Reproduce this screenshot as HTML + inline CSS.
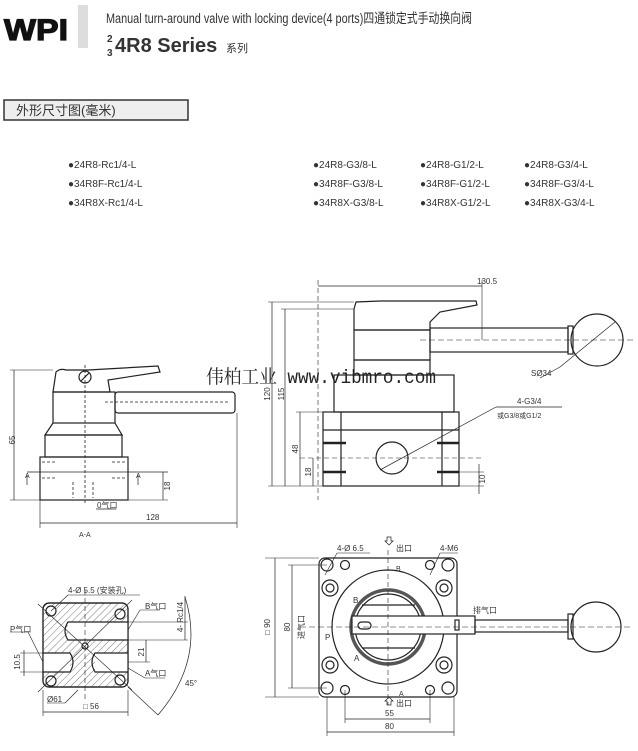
<!DOCTYPE html>
<html><head><meta charset="utf-8"><style>
html,body{margin:0;padding:0;background:#fff;}
svg{display:block;}
text{font-family:"Liberation Sans","Noto Sans CJK SC",sans-serif;fill:#333;}
</style></head><body>
<svg width="638" height="751" viewBox="0 0 638 751" xmlns="http://www.w3.org/2000/svg">
<defs>
<pattern id="h" width="5" height="5" patternUnits="userSpaceOnUse" patternTransform="rotate(45)">
<line x1="0" y1="0" x2="0" y2="5" stroke="#555" stroke-width="0.8"/></pattern>
</defs>
<rect width="638" height="751" fill="#fff"/>
<!-- header -->
<text x="4" y="40" font-size="30" font-weight="bold" style="fill:#111;stroke:#111;stroke-width:1.2" textLength="64" lengthAdjust="spacingAndGlyphs">WPI</text>
<rect x="78" y="5" width="10" height="43" fill="#ddd"/>
<text x="106" y="23" font-size="13.5" textLength="366" lengthAdjust="spacingAndGlyphs">Manual turn-around valve with locking device(4 ports)四通锁定式手动换向阀</text>
<text x="107" y="42" font-size="10" font-weight="bold">2</text>
<text x="107" y="56" font-size="10" font-weight="bold">3</text>
<text x="115" y="52" font-size="20" font-weight="bold" fill="#222">4R8 Series</text>
<text x="226" y="52" font-size="11">系列</text>
<rect x="4" y="100" width="184" height="20" fill="#eee" stroke="#333" stroke-width="1.5"/>
<text x="16" y="115" font-size="13">外形尺寸图(毫米)</text>
<g font-size="10">
<text x="68" y="168">●24R8-Rc1/4-L</text>
<text x="68" y="187">●34R8F-Rc1/4-L</text>
<text x="68" y="206">●34R8X-Rc1/4-L</text>
<text x="313" y="168">●24R8-G3/8-L</text>
<text x="313" y="187">●34R8F-G3/8-L</text>
<text x="313" y="206">●34R8X-G3/8-L</text>
<text x="420" y="168">●24R8-G1/2-L</text>
<text x="420" y="187">●34R8F-G1/2-L</text>
<text x="420" y="206">●34R8X-G1/2-L</text>
<text x="524" y="168">●24R8-G3/4-L</text>
<text x="524" y="187">●34R8F-G3/4-L</text>
<text x="524" y="206">●34R8X-G3/4-L</text>
</g>

<g stroke="#222" stroke-width="1.2" fill="none">
<!-- left side view -->
<path d="M53 392 L56 372 Q60 368 66 370 L88 370 L158 366 L160 372 L108 380 L110 392 Z" fill="#fff"/>
<circle cx="85" cy="377" r="6"/><line x1="81" y1="381" x2="89" y2="373"/>
<rect x="53" y="392" width="62" height="31"/>
<rect x="115" y="392" width="120" height="21" rx="3"/>
<path d="M53 423 L45 435 L122 435 L115 423"/>
<rect x="45" y="435" width="77" height="22"/>
<rect x="40" y="457" width="88" height="43"/>
<g stroke-dasharray="3,2" stroke-width="0.8"><line x1="85" y1="365" x2="85" y2="505"/><line x1="105" y1="402" x2="230" y2="402"/>
<line x1="42" y1="462" x2="55" y2="462"/><line x1="112" y1="462" x2="126" y2="462"/><line x1="42" y1="478" x2="55" y2="478"/><line x1="112" y1="478" x2="126" y2="478"/>
<line x1="73" y1="482" x2="73" y2="498"/><line x1="93" y1="482" x2="93" y2="498"/></g>
<line x1="27" y1="472" x2="168" y2="472" stroke-width="0.7"/>
<line x1="10" y1="370" x2="53" y2="370" stroke-width="0.6"/><line x1="10" y1="500" x2="40" y2="500" stroke-width="0.6"/>
<line x1="14" y1="370" x2="14" y2="500" stroke-width="0.7"/>
<line x1="163" y1="472" x2="163" y2="500" stroke-width="0.7"/><line x1="128" y1="500" x2="168" y2="500" stroke-width="0.6"/>
<line x1="40" y1="500" x2="40" y2="528" stroke-width="0.6"/><line x1="237" y1="413" x2="237" y2="528" stroke-width="0.6"/>
<line x1="40" y1="523" x2="237" y2="523" stroke-width="0.7"/>
<line x1="96" y1="509" x2="116" y2="509" stroke-width="0.7"/>
<line x1="27" y1="475" x2="27" y2="485" stroke-width="0.7"/><line x1="138" y1="475" x2="138" y2="485" stroke-width="0.7"/>

<!-- right front view -->
<line x1="318" y1="286" x2="482" y2="286" stroke-width="0.7"/>
<line x1="482" y1="280" x2="482" y2="340" stroke-width="0.6"/><line x1="318" y1="280" x2="318" y2="500" stroke-dasharray="5,3" stroke-width="0.6"/>
<path d="M354 309 L356 302 L380 301 L476 301 L477 305 L440 312 L430 322 L430 330 L354 330 Z" fill="#fff"/>
<rect x="354" y="330" width="76" height="30"/>
<rect x="430" y="328" width="138" height="24"/>
<rect x="568" y="326" width="5" height="28"/>
<circle cx="597" cy="340" r="26"/>
<line x1="560" y1="367" x2="615" y2="322" stroke-width="0.7"/>
<line x1="540" y1="378" x2="560" y2="367" stroke-width="0.7"/>
<line x1="420" y1="340" x2="635" y2="340" stroke-dasharray="6,3" stroke-width="0.6"/>
<rect x="354" y="360" width="76" height="15"/>
<rect x="334" y="375" width="120" height="37"/>
<rect x="323" y="412" width="136" height="74"/>
<line x1="341" y1="412" x2="341" y2="486"/><line x1="442" y1="412" x2="442" y2="486"/>
<line x1="323" y1="430" x2="459" y2="430"/>
<g stroke-width="2.5"><line x1="323" y1="443" x2="346" y2="443"/><line x1="437" y1="443" x2="459" y2="443"/><line x1="323" y1="472" x2="346" y2="472"/><line x1="437" y1="472" x2="459" y2="472"/></g>
<circle cx="392" cy="458" r="16"/>
<line x1="380" y1="470" x2="496" y2="407" stroke-width="0.7"/><line x1="496" y1="407" x2="562" y2="407" stroke-width="0.7"/>
<line x1="300" y1="458" x2="482" y2="458" stroke-dasharray="5,3" stroke-width="0.6"/>
<line x1="268" y1="302" x2="354" y2="302" stroke-width="0.6"/><line x1="281" y1="309" x2="354" y2="309" stroke-width="0.6"/>
<line x1="268" y1="486" x2="323" y2="486" stroke-width="0.6"/><line x1="459" y1="486" x2="484" y2="486" stroke-width="0.6"/>
<line x1="296" y1="412" x2="323" y2="412" stroke-width="0.6"/><line x1="459" y1="472" x2="484" y2="472" stroke-width="0.6"/>
<line x1="272" y1="302" x2="272" y2="486" stroke-width="0.7"/>
<line x1="285" y1="309" x2="285" y2="486" stroke-width="0.7"/>
<line x1="300" y1="412" x2="300" y2="486" stroke-width="0.7"/>
<line x1="313" y1="458" x2="313" y2="486" stroke-width="0.7"/>
<line x1="479" y1="464" x2="479" y2="494" stroke-width="0.7"/>

<!-- bottom left section -->
<rect x="43" y="603" width="85" height="84" rx="6" fill="url(#h)"/>
<rect x="68" y="622" width="60" height="18" fill="#fff" stroke="none"/>
<rect x="43" y="653" width="27" height="19" fill="#fff" stroke="none"/>
<rect x="95" y="653" width="33" height="19" fill="#fff" stroke="none"/>
<path d="M128 622 L68 622 Q62 631 68 640 L128 640"/>
<path d="M43 653 L70 653 Q76 662 70 672 L43 672"/>
<path d="M128 653 L95 653 Q89 662 95 672 L128 672"/>
<rect x="43" y="603" width="85" height="84" rx="6"/>
<g fill="#fff"><circle cx="51" cy="611" r="5"/><circle cx="120" cy="614" r="5"/><circle cx="51" cy="681" r="5"/><circle cx="120" cy="680" r="5"/><circle cx="85" cy="646" r="3"/></g>
<line x1="85" y1="590" x2="85" y2="700" stroke-dasharray="5,3" stroke-width="0.6"/>
<line x1="38" y1="604" x2="132" y2="690" stroke-width="0.6"/><line x1="132" y1="600" x2="38" y2="692" stroke-width="0.6"/>
<line x1="68" y1="595" x2="140" y2="595" stroke-width="0.6"/><line x1="68" y1="595" x2="51" y2="611" stroke-width="0.6"/>
<line x1="128" y1="622" x2="188" y2="622" stroke-width="0.6"/><line x1="128" y1="640" x2="188" y2="640" stroke-width="0.6"/>
<line x1="185" y1="596" x2="185" y2="640" stroke-width="0.7"/>
<line x1="140" y1="610" x2="160" y2="610" stroke-width="0.6"/><line x1="140" y1="610" x2="128" y2="630" stroke-width="0.6"/>
<line x1="10" y1="632" x2="28" y2="632" stroke-width="0.6"/><line x1="28" y1="632" x2="43" y2="662" stroke-width="0.6"/>
<line x1="20" y1="653" x2="43" y2="653" stroke-width="0.6"/><line x1="20" y1="672" x2="43" y2="672" stroke-width="0.6"/>
<line x1="24" y1="650" x2="24" y2="676" stroke-width="0.7"/>
<line x1="128" y1="662" x2="150" y2="662" stroke-width="0.6"/><line x1="146" y1="640" x2="146" y2="662" stroke-width="0.7"/>
<line x1="145" y1="678" x2="165" y2="678" stroke-width="0.6"/><line x1="145" y1="678" x2="128" y2="668" stroke-width="0.6"/>
<line x1="47" y1="703" x2="65" y2="703" stroke-width="0.6"/><line x1="65" y1="703" x2="78" y2="690" stroke-width="0.6"/>
<line x1="43" y1="690" x2="43" y2="716" stroke-width="0.6"/><line x1="128" y1="690" x2="128" y2="716" stroke-width="0.6"/>
<line x1="43" y1="712" x2="128" y2="712" stroke-width="0.7"/>
<path d="M185 597 Q205 660 158 715" stroke-width="0.7"/>
<line x1="128" y1="687" x2="158" y2="715" stroke-width="0.6"/>

<!-- bottom right top view -->
<rect x="319" y="558" width="138" height="139" rx="6"/>
<ellipse cx="388" cy="627" rx="56" ry="57" fill="#fff"/>
<circle cx="388" cy="627" r="37" stroke-width="3.5" stroke="#555"/>
<circle cx="388" cy="627" r="33"/>
<line x1="362" y1="605" x2="415" y2="605"/><line x1="362" y1="648" x2="415" y2="648"/>
<g fill="#fff">
<circle cx="327" cy="565" r="6"/><circle cx="448" cy="565" r="6"/><circle cx="327" cy="688" r="6"/><circle cx="448" cy="688" r="6"/>
<circle cx="330" cy="588" r="8"/><circle cx="444" cy="588" r="8"/><circle cx="330" cy="665" r="8"/><circle cx="444" cy="665" r="8"/>
<circle cx="345" cy="565" r="4.5"/><circle cx="430" cy="565" r="4.5"/><circle cx="345" cy="690" r="4.5"/><circle cx="430" cy="690" r="4.5"/>
</g>
<g><circle cx="330" cy="588" r="4"/><circle cx="444" cy="588" r="4"/><circle cx="330" cy="665" r="4"/><circle cx="444" cy="665" r="4"/></g>
<rect x="352" y="616" width="123" height="18" fill="#fff"/>
<rect x="358" y="622" width="13" height="7" rx="3.5"/>
<rect x="455" y="620" width="4" height="10"/>
<rect x="475" y="620" width="93" height="12"/>
<rect x="568" y="614" width="5" height="25"/>
<circle cx="596" cy="627" r="25"/>
<line x1="300" y1="627" x2="630" y2="627" stroke-dasharray="6,3" stroke-width="0.6"/>
<line x1="388" y1="550" x2="388" y2="705" stroke-dasharray="5,3" stroke-width="0.6"/>
<line x1="265" y1="558" x2="319" y2="558" stroke-width="0.6"/><line x1="265" y1="697" x2="319" y2="697" stroke-width="0.6"/>
<line x1="275" y1="558" x2="275" y2="697" stroke-width="0.7"/>
<line x1="288" y1="565" x2="327" y2="565" stroke-width="0.6"/><line x1="288" y1="688" x2="327" y2="688" stroke-width="0.6"/>
<line x1="292" y1="565" x2="292" y2="688" stroke-width="0.7"/>
<line x1="345" y1="690" x2="345" y2="723" stroke-width="0.6"/><line x1="430" y1="690" x2="430" y2="723" stroke-width="0.6"/>
<line x1="345" y1="719" x2="430" y2="719" stroke-width="0.7"/>
<line x1="327" y1="697" x2="327" y2="736" stroke-width="0.6"/><line x1="454" y1="697" x2="454" y2="736" stroke-width="0.6"/>
<line x1="327" y1="732" x2="454" y2="732" stroke-width="0.7"/>
<line x1="337" y1="553" x2="370" y2="553" stroke-width="0.6"/><line x1="337" y1="553" x2="325" y2="575" stroke-width="0.6"/>
<line x1="440" y1="553" x2="458" y2="553" stroke-width="0.6"/><line x1="440" y1="553" x2="430" y2="575" stroke-width="0.6"/>
<path d="M389 545 l-4 -4 l2 0 l0 -4 l4 0 l0 4 l2 0 z" stroke-width="0.7"/>
<path d="M389 705 l-4 -4 l2 0 l0 -4 l4 0 l0 4 l2 0 z" transform="rotate(180 389 701)" stroke-width="0.7"/>
</g>

<!-- labels -->
<g font-size="8">
<text x="15" y="440" transform="rotate(-90 15 440)" text-anchor="middle">65</text>
<text x="170" y="486" transform="rotate(-90 170 486)" text-anchor="middle">18</text>
<text x="25" y="478" font-size="7">A</text><text x="136" y="478" font-size="7">A</text>
<text x="97" y="508">0气口</text>
<text x="146" y="520">128</text>
<text x="79" y="537" font-size="7">A-A</text>
<text x="477" y="284">130.5</text>
<text x="531" y="376">SØ34</text>
<text x="517" y="404">4-G3/4</text>
<text x="497" y="418" font-size="7">或G3/8或G1/2</text>
<text x="270" y="394" transform="rotate(-90 270 394)" text-anchor="middle">120</text>
<text x="284" y="394" transform="rotate(-90 284 394)" text-anchor="middle">115</text>
<text x="298" y="449" transform="rotate(-90 298 449)" text-anchor="middle">48</text>
<text x="311" y="472" transform="rotate(-90 311 472)" text-anchor="middle">18</text>
<text x="485" y="479" transform="rotate(-90 485 479)" text-anchor="middle">10</text>
<text x="68" y="593">4-Ø 5.5 (安装孔)</text>
<text x="145" y="609">B气口</text>
<text x="183" y="617" transform="rotate(-90 183 617)" text-anchor="middle">4- Rc1/4</text>
<text x="10" y="632">P气口</text>
<text x="20" y="662" transform="rotate(-90 20 662)" text-anchor="middle">10.5</text>
<text x="144" y="652" transform="rotate(-90 144 652)" text-anchor="middle">21</text>
<text x="145" y="676">A气口</text>
<text x="185" y="686">45°</text>
<text x="47" y="702">Ø61</text>
<text x="83" y="709">□ 56</text>
<text x="337" y="551">4-Ø 6.5</text>
<text x="396" y="551">出口</text>
<text x="440" y="551">4-M6</text>
<text x="396" y="706">出口</text>
<text x="396" y="571" font-size="7">B</text><text x="353" y="603" font-size="8">B</text>
<text x="325" y="640">P</text><text x="354" y="661" font-size="8">A</text><text x="399" y="696" font-size="7">A</text>
<text x="473" y="613">排气口</text>
<text x="270" y="627" transform="rotate(-90 270 627)" text-anchor="middle">□ 90</text>
<text x="290" y="627" transform="rotate(-90 290 627)" text-anchor="middle">80</text>
<text x="304" y="627" transform="rotate(-90 304 627)" text-anchor="middle">进气口</text>
<text x="385" y="716">55</text>
<text x="385" y="729">80</text>
</g>
<text x="206" y="383" font-size="19" style="fill:#222;font-family:'Liberation Mono','Noto Serif CJK SC',monospace" textLength="230" lengthAdjust="spacingAndGlyphs">伟柏工业 www.vibmro.com</text>
</svg>
</body></html>
